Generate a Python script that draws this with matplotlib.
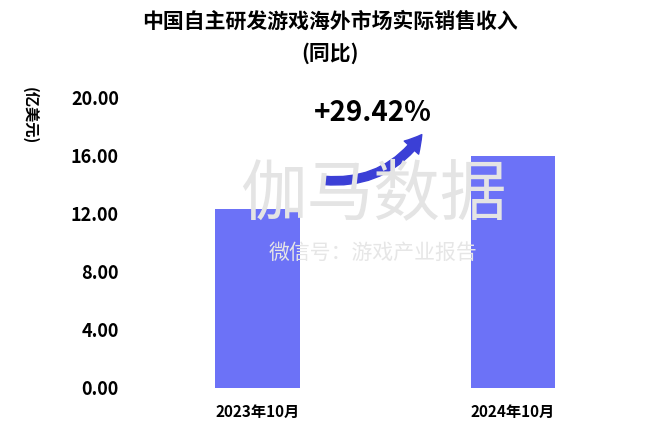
import matplotlib
matplotlib.use("Agg")
import matplotlib.pyplot as plt
from matplotlib.patches import FancyArrowPatch

plt.rcParams["font.family"] = ["Noto Sans CJK SC"]

categories = ["2023年10月", "2024年10月"]
values = [12.34, 15.97]
yticks = [0, 4, 8, 12, 16, 20]
growth_label = "+29.42%"

fig = plt.figure(figsize=(6.6, 4.43), dpi=100)
ax = fig.add_axes([0.197, 0.125, 0.773, 0.655])
ax.bar([0, 1], values, width=0.33, color="#6c72f7")
ax.set_xlim(-0.5, 1.5)
ax.set_ylim(0, 20)
ax.set_yticks(yticks)
ax.set_yticklabels([f"{v:.2f}" for v in yticks], fontsize=13, fontweight="bold")
ax.set_xticks([0, 1])
ax.set_xticklabels(categories, fontsize=11, fontweight="bold")
for s in ax.spines.values():
    s.set_visible(False)
ax.tick_params(length=0, pad=8)
ax.tick_params(axis="x", pad=12)

fig.text(0.5, 0.952, "中国自主研发游戏海外市场实际销售收入", ha="center", va="center",
         fontsize=15, fontweight="bold")
fig.text(0.5, 0.88, "(同比)", ha="center", va="center", fontsize=15, fontweight="bold")
fig.text(0.045, 0.74, "(亿美元)", rotation=270, ha="center", va="center", fontsize=11,
         fontweight="bold")

fig.text(0.565, 0.56, "伽马数据", ha="center", va="center", fontsize=48, color="#e4e4e4",
         zorder=0)
fig.text(0.565, 0.43, "微信号：游戏产业报告", ha="center", va="center", fontsize=15,
         color="#e6e6e6")

ax.text(0.45, 18.9, growth_label, ha="center", va="center", fontsize=20, fontweight="bold",
        transform=ax.transData)
arr = FancyArrowPatch((0.25, 14.3), (0.65, 17.6), connectionstyle="arc3,rad=0.3",
                      arrowstyle="simple,head_width=14,head_length=12,tail_width=6",
                      color="#3b3fd6", mutation_scale=1)
ax.add_patch(arr)

fig.savefig("out.png", dpi=100)
